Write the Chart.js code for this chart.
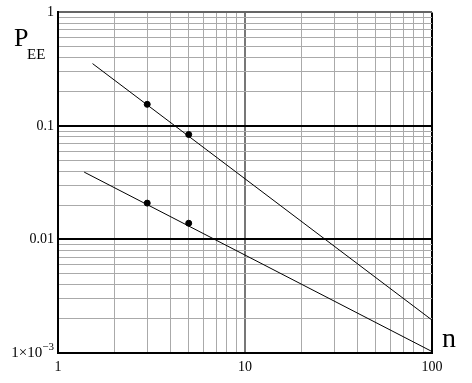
<!DOCTYPE html>
<html>
<head>
<meta charset="utf-8">
<script src="https://cdn.jsdelivr.net/npm/chart.js@4"></script>
<style>
  html, body { margin: 0; padding: 0; background: #fff; }
  #wrap { width: 472px; height: 383px; }
</style>
</head>
<body>
<div id="wrap"><canvas id="chart" width="472" height="383"></canvas></div>
<script>
// grid lines (log decades with minor steps)
const xGrid = [1, 2, 3, 4, 5, 6, 7, 8, 9, 10, 20, 30, 40, 50, 60, 70, 80, 90, 100];
const yGrid = [0.001, 0.002, 0.003, 0.004, 0.005, 0.006, 0.007, 0.008, 0.009,
               0.01, 0.02, 0.03, 0.04, 0.05, 0.06, 0.07, 0.08, 0.09,
               0.1, 0.2, 0.3, 0.4, 0.5, 0.6, 0.7, 0.8, 0.9, 1];

// labelled ticks
const xTickValues = [1, 10, 100];
const xTickLabels = ["1", "10", "100"];
const yTickValues = [1, 0.1, 0.01];
const yTickLabels = ["1", "0.1", "0.01"];

// upper line (ends) and its marked points
const upperLineN = [1.53, 100];
const upperLineP = [0.354, 0.00195];
const upperMarkN = [3, 5];
const upperMarkP = [0.155, 0.084];

// lower line (ends) and its marked points
const lowerLineN = [1.38, 100];
const lowerLineP = [0.0392, 0.00103];
const lowerMarkN = [3, 5];
const lowerMarkP = [0.0209, 0.0139];

const FONT = "'Liberation Serif', 'DejaVu Serif', serif";

const near = (a, b) => Math.abs(a - b) < b * 1e-6;
const pts = (xs, ys) => xs.map((x, i) => ({ x, y: ys[i] }));

// extra text: 1x10^-3 tick label and the axis names
const extraText = {
  id: "extraText",
  afterDraw(chart) {
    const { ctx, scales } = chart;
    const y0 = scales.y.getPixelForValue(0.001);
    const right = scales.y.right - 4;
    ctx.save();
    ctx.fillStyle = "#000";
    ctx.textBaseline = "middle";
    ctx.textAlign = "right";
    ctx.font = "11px " + FONT;
    const sup = "\u22123";
    ctx.fillText(sup, right, y0 - 6);
    const supW = ctx.measureText(sup).width;
    ctx.font = "15px " + FONT;
    ctx.fillText("1\u00d710", right - supW, y0);

    ctx.textAlign = "left";
    ctx.textBaseline = "alphabetic";
    ctx.font = "26px " + FONT;
    ctx.fillText("P", 14, 46);
    ctx.font = "15px " + FONT;
    ctx.fillText("EE", 27, 59);
    ctx.font = "28px " + FONT;
    ctx.fillText("n", 442, 347);
    ctx.restore();
  }
};

new Chart(document.getElementById("chart"), {
  type: "scatter",
  data: {
    datasets: [
      {
        type: "line",
        data: pts(upperLineN, upperLineP),
        borderColor: "#000",
        borderWidth: 1,
        pointRadius: 0,
        fill: false
      },
      {
        type: "line",
        data: pts(lowerLineN, lowerLineP),
        borderColor: "#000",
        borderWidth: 1,
        pointRadius: 0,
        fill: false
      },
      {
        data: pts(upperMarkN, upperMarkP),
        backgroundColor: "#000",
        borderColor: "#000",
        pointRadius: 3
      },
      {
        data: pts(lowerMarkN, lowerMarkP),
        backgroundColor: "#000",
        borderColor: "#000",
        pointRadius: 3
      }
    ]
  },
  options: {
    responsive: false,
    animation: false,
    events: [],
    layout: { padding: { left: 0, top: 12, right: 40, bottom: 0 } },
    plugins: { legend: { display: false }, tooltip: { enabled: false } },
    scales: {
      x: {
        type: "logarithmic",
        min: 1,
        max: 100,
        afterBuildTicks: (s) => { s.ticks = xGrid.map((v) => ({ value: v })); },
        afterFit: (s) => { s.height = 30; },
        border: { color: "#000", width: 2 },
        grid: {
          drawTicks: false,
          color: (c) => near(c.tick.value, 100) ? "#000" : near(c.tick.value, 10) ? "#777" : "#aaa",
          lineWidth: (c) => near(c.tick.value, 100) || near(c.tick.value, 10) ? 2 : 1
        },
        ticks: {
          autoSkip: false,
          maxRotation: 0,
          padding: 6,
          color: "#000",
          font: { family: FONT, size: 14 },
          callback: (v) => {
            const i = xTickValues.findIndex((t) => near(v, t));
            return i < 0 ? "" : xTickLabels[i];
          }
        }
      },
      y: {
        type: "logarithmic",
        min: 0.001,
        max: 1,
        afterBuildTicks: (s) => { s.ticks = yGrid.map((v) => ({ value: v })); },
        afterFit: (s) => { s.width = 58; },
        border: { color: "#000", width: 2 },
        grid: {
          drawTicks: false,
          color: (c) => {
            const v = c.tick.value;
            if (near(v, 0.1) || near(v, 0.01)) return "#000";
            if (near(v, 1)) return "#666";
            return "#aaa";
          },
          lineWidth: (c) => {
            const v = c.tick.value;
            return near(v, 0.1) || near(v, 0.01) || near(v, 1) ? 2 : 1;
          }
        },
        ticks: {
          autoSkip: false,
          padding: 4,
          color: "#000",
          font: { family: FONT, size: 14 },
          callback: (v) => {
            const i = yTickValues.findIndex((t) => near(v, t));
            return i < 0 ? "" : yTickLabels[i];
          }
        }
      }
    }
  },
  plugins: [extraText]
});
</script>
</body>
</html>
